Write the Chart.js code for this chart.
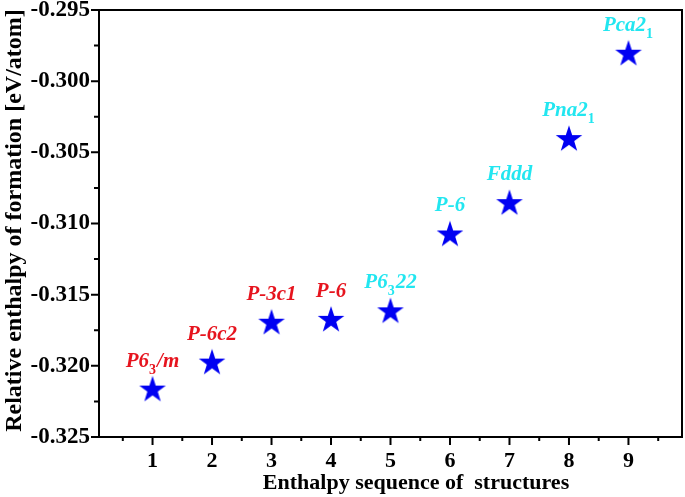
<!DOCTYPE html>
<html>
<head>
<meta charset="utf-8">
<script src="https://cdn.jsdelivr.net/npm/chart.js@4.4.1/dist/chart.umd.min.js"></script>
<style>
  html, body { margin: 0; padding: 0; background: #fff; }
  #wrap { width: 685px; height: 497px; }
</style>
</head>
<body>
<div id="wrap"><canvas id="chart"></canvas></div>
<script>
// enthalpy sequence of structures (x) and relative formation enthalpy (y)
const sequence = [1, 2, 3, 4, 5, 6, 7, 8, 9]
const enthalpy = [-0.3216, -0.3197, -0.3169, -0.3167, -0.3161, -0.3107, -0.3085, -0.3040, -0.2980]
// "_" marks the next character as a subscript
const spaceGroups = ['P6_3/m', 'P-6c2', 'P-3c1', 'P-6', 'P6_322', 'P-6', 'Fddd', 'Pna2_1', 'Pca2_1']
const groupColors = ['#e6141e', '#e6141e', '#e6141e', '#e6141e', '#22e6f0', '#22e6f0', '#22e6f0', '#22e6f0', '#22e6f0']
const xTickValues = [1, 2, 3, 4, 5, 6, 7, 8, 9]
const yTickValues = [-0.325, -0.320, -0.315, -0.310, -0.305, -0.300, -0.295]

const SERIF = "'Liberation Serif', 'Times New Roman', serif"

function makeStar(R, color) {
  const c = document.createElement('canvas')
  const s = Math.ceil(R * 2 + 2)
  c.width = s
  c.height = s
  const g = c.getContext('2d')
  // centre the star's bounding box in the canvas
  g.translate(s / 2, s / 2 + R * (1 - Math.cos(Math.PI / 5)) / 2)
  g.beginPath()
  for (let i = 0; i < 10; i++) {
    const r = i % 2 === 0 ? R : R * 0.39
    const a = -Math.PI / 2 + i * Math.PI / 5
    const px = r * Math.cos(a)
    const py = r * Math.sin(a)
    if (i === 0) g.moveTo(px, py)
    else g.lineTo(px, py)
  }
  g.closePath()
  g.fillStyle = color
  g.fill()
  return c
}

function splitLabel(text) {
  const parts = []
  for (let i = 0; i < text.length; i++) {
    if (text[i] === '_') {
      parts.push({ t: text[i + 1], sub: true })
      i++
    } else {
      const last = parts[parts.length - 1]
      if (last && !last.sub) last.t += text[i]
      else parts.push({ t: text[i], sub: false })
    }
  }
  return parts
}

function noPadding(scale) {
  scale.paddingTop = 0
  scale.paddingBottom = 0
  scale.paddingLeft = 0
  scale.paddingRight = 0
}

const frame = {
  id: 'frame',
  afterDatasetsDraw(chart) {
    const ctx = chart.ctx
    const meta = chart.getDatasetMeta(0)
    ctx.save()
    ctx.textBaseline = 'alphabetic'
    meta.data.forEach((pt, i) => {
      const parts = splitLabel(spaceGroups[i])
      let total = 0
      parts.forEach(p => {
        ctx.font = p.sub ? `bold 14px ${SERIF}` : `italic bold 21px ${SERIF}`
        p.w = ctx.measureText(p.t).width + (p.sub ? 1 : 0)
        total += p.w
      })
      let x = pt.x - total / 2
      const base = pt.y - 22
      ctx.fillStyle = groupColors[i]
      parts.forEach(p => {
        ctx.font = p.sub ? `bold 14px ${SERIF}` : `italic bold 21px ${SERIF}`
        ctx.fillText(p.t, x, p.sub ? base + 7 : base)
        x += p.w
      })
    })
    ctx.restore()
  },
  afterDraw(chart) {
    const ctx = chart.ctx
    const a = chart.chartArea
    const xs = chart.scales.x
    const ys = chart.scales.y
    ctx.save()
    ctx.strokeStyle = '#000'
    ctx.lineWidth = 2
    ctx.strokeRect(a.left, a.top, a.right - a.left, a.bottom - a.top)

    ctx.beginPath()
    for (let v = 0.5; v < xs.max; v += 0.5) {
      const px = xs.getPixelForValue(v)
      const len = Number.isInteger(v) ? 8 : 4
      ctx.moveTo(px, a.bottom)
      ctx.lineTo(px, a.bottom + len)
    }
    for (let k = 0; k <= 12; k++) {
      const v = -0.325 + k * 0.0025
      const py = ys.getPixelForValue(v)
      const len = k % 2 === 0 ? 8 : 5
      ctx.moveTo(a.left, py)
      ctx.lineTo(a.left - len, py)
    }
    ctx.stroke()

    ctx.fillStyle = '#000'
    ctx.font = `bold 22px ${SERIF}`
    ctx.textAlign = 'center'
    ctx.textBaseline = 'alphabetic'
    ctx.fillText('Enthalpy sequence of  structures', 416, 489)

    ctx.translate(21, (a.top + a.bottom) / 2 - 3)
    ctx.rotate(-Math.PI / 2)
    ctx.font = `bold 24px ${SERIF}`
    ctx.fillText('Relative enthalpy of formation [eV/atom]', 0, 0)
    ctx.restore()
  }
}

new Chart(document.getElementById('chart').getContext('2d'), {
  type: 'scatter',
  data: {
    datasets: [{
      data: sequence.map((x, i) => ({ x: x, y: enthalpy[i] })),
      pointStyle: makeStar(14, '#0000f2'),
      pointRadius: 14,
      pointHoverRadius: 14
    }]
  },
  options: {
    responsive: true,
    maintainAspectRatio: false,
    animation: false,
    layout: {
      autoPadding: false,
      padding: { left: 0, right: 3, top: 10, bottom: 0 }
    },
    plugins: {
      legend: { display: false },
      tooltip: { enabled: false }
    },
    scales: {
      x: {
        type: 'linear',
        min: 0.1,
        max: 9.9,
        afterBuildTicks: (scale) => {
          scale.ticks = xTickValues.map(v => ({ value: v }))
        },
        afterFit: (scale) => {
          scale.height = 60
          noPadding(scale)
        },
        grid: { display: false, drawTicks: false },
        border: { display: false },
        ticks: {
          color: '#000',
          padding: 11,
          font: { family: SERIF, size: 22, weight: 'bold' },
          callback: (v) => v
        }
      },
      y: {
        type: 'linear',
        min: -0.325,
        max: -0.295,
        afterBuildTicks: (scale) => {
          scale.ticks = yTickValues.map(v => ({ value: v }))
        },
        afterFit: (scale) => {
          scale.width = 99
          noPadding(scale)
        },
        grid: { display: false, drawTicks: false },
        border: { display: false },
        ticks: {
          color: '#000',
          padding: 9,
          font: { family: SERIF, size: 23, weight: 'bold' },
          callback: (v) => v.toFixed(3)
        }
      }
    }
  },
  plugins: [frame]
})
</script>
</body>
</html>
